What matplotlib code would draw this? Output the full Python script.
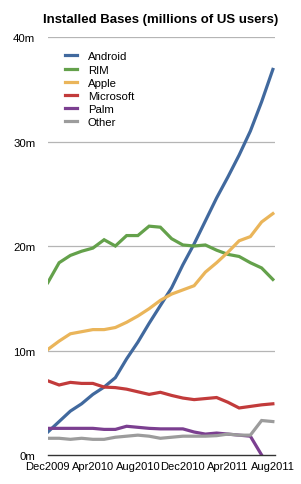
import matplotlib.pyplot as plt

plt.rcParams['font.family'] = ['Liberation Sans', 'DejaVu Sans']

# monthly, Dec2009 .. Aug2011
months = list(range(21))
tick_pos = [0, 4, 8, 12, 16, 20]
tick_labels = ['Dec2009', 'Apr2010', 'Aug2010', 'Dec2010', 'Apr2011', 'Aug2011']

android = [2.2, 3.2, 4.2, 4.9, 5.8, 6.5, 7.4, 9.2, 10.8, 12.6, 14.3, 16.0,
           18.2, 20.2, 22.4, 24.6, 26.6, 28.7, 31.0, 33.8, 36.9]
rim = [16.5, 18.4, 19.1, 19.5, 19.8, 20.6, 20.0, 21.0, 21.0, 21.9, 21.8, 20.7,
       20.1, 20.0, 20.1, 19.6, 19.2, 19.0, 18.4, 17.9, 16.8]
apple = [10.1, 10.9, 11.6, 11.8, 12.0, 12.0, 12.2, 12.7, 13.3, 14.0, 14.8, 15.4,
         15.8, 16.2, 17.5, 18.4, 19.4, 20.5, 20.9, 22.3, 23.1]
microsoft = [7.1, 6.7, 6.95, 6.85, 6.85, 6.5, 6.45, 6.3, 6.05, 5.8, 6.0, 5.7,
             5.45, 5.3, 5.4, 5.5, 5.05, 4.5, 4.65, 4.8, 4.9]
palm = [2.55, 2.55, 2.55, 2.55, 2.55, 2.45, 2.45, 2.75, 2.65, 2.55, 2.5, 2.5,
        2.5, 2.2, 2.0, 2.1, 2.0, 1.9, 1.8, 0.0, None]
other = [1.6, 1.6, 1.5, 1.6, 1.5, 1.5, 1.7, 1.8, 1.9, 1.8, 1.6, 1.7,
         1.8, 1.8, 1.8, 1.85, 2.0, 1.9, 1.9, 3.3, 3.2]

series = [('Android', android, '#41699e'),
          ('RIM', rim, '#64a14b'),
          ('Apple', apple, '#eab55a'),
          ('Microsoft', microsoft, '#c23b3b'),
          ('Palm', palm, '#7b3f90'),
          ('Other', other, '#9c9c9c')]

fig = plt.figure(figsize=(3.01, 4.85), dpi=100)
ax = fig.add_axes([0.159, 0.0598, 0.755, 0.8618])

for name, vals, col in series:
    y = [float('nan') if v is None else v for v in vals]
    ax.plot(months, y, color=col, lw=2.3, label=name, solid_joinstyle='miter')

ax.set_xlim(0, 20.2)
ax.set_ylim(0, 40)
ax.set_yticks([0, 10, 20, 30, 40])
ax.set_yticklabels(['0m', '10m', '20m', '30m', '40m'], fontsize=8.2)
ax.set_xticks(tick_pos)
ax.set_xticklabels(tick_labels, fontsize=8)
ax.tick_params(length=0)
ax.tick_params(axis='y', pad=9)
ax.tick_params(axis='x', pad=4.5)
for v in [10, 20, 30, 40]:
    ax.axhline(v, color='#b5b5b5', lw=0.9, zorder=0)
for s in ['top', 'right', 'left']:
    ax.spines[s].set_visible(False)
ax.spines['bottom'].set_color('#333333')
ax.spines['bottom'].set_linewidth(1)

ax.legend(loc='upper left', bbox_to_anchor=(0.03, 0.99), frameon=False,
          fontsize=8.2, handlelength=1.1, handletextpad=0.9, labelspacing=0.28)

fig.text(0.535, 0.958, 'Installed Bases (millions of US users)',
         ha='center', va='center', fontsize=9.5, fontweight='bold')

fig.savefig('out.png', dpi=100)
